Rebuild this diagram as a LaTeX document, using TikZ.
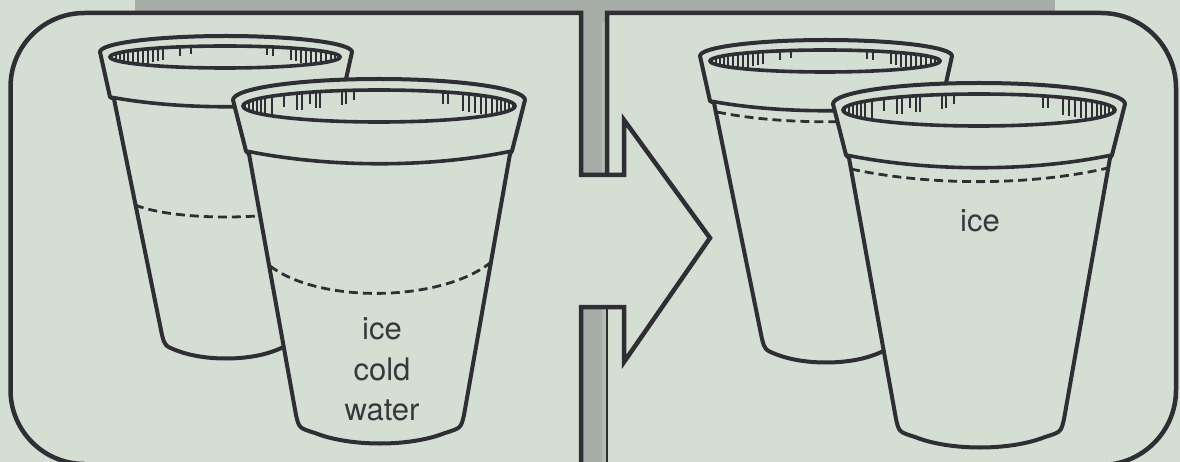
\documentclass[tikz,border=0pt]{standalone}
\usepackage{fontspec}
\newfontfamily\labelfont{TeX Gyre Heros}

\definecolor{paper}{RGB}{213,222,210}
\definecolor{band}{RGB}{166,173,166}
\definecolor{barlight}{RGB}{180,188,180}
\definecolor{ink}{RGB}{46,46,52}
\definecolor{labelink}{RGB}{56,56,62}

% upper half of an ellipse: centre (#1,#2), radii #3 and #4, from left end to right end
\newcommand\rimtop[4]{({#1-#3},#2) .. controls ({#1-#3},{#2-0.5523*#4}) and ({#1-0.5523*#3},{#2-#4}) .. ({#1},{#2-#4}) .. controls ({#1+0.5523*#3},{#2-#4}) and ({#1+#3},{#2-0.5523*#4}) .. ({#1+#3},#2)}

\tikzset{
  panel/.style={draw=ink, line width=4.5pt, line join=miter},
  cupline/.style={draw=ink, line width=4pt, line join=round, line cap=round},
  rimline/.style={draw=ink, line width=3.6pt},
  fillline/.style={draw=ink, line width=2.8pt, dash pattern=on 9pt off 5pt},
  rib/.style={draw=ink, line width=2.4pt},
  cuplabel/.style={font=\labelfont\fontsize{31pt}{37pt}\selectfont, text=labelink, inner sep=0pt, anchor=base},
}

% cup standing behind
\newcommand\backcup{%
  \draw[cupline, fill=paper] \rimtop{226}{52}{126}{16} -- (342,97) -- (338,99) -- (290,335)
    .. controls (287,346) .. (274,351) .. controls (247,361) and (205,361) .. (178,351)
    .. controls (165,346) .. (162,335) -- (114,99) -- (110,97) -- cycle;
  \draw[rimline] (110,97) .. controls (180,110) and (272,110) .. (342,97);
  \begin{scope}
    \clip (225,57) ellipse [x radius=115pt, y radius=11pt];
    \foreach \x/\l in {112/16,116/16,120/16,124/16,128/16,133/16,138/16,143/16,148/15,153/14,158/13,163/12,180/9,191/8,
                       267/8,273/9,291/12,296/13,301/14,306/15,311/16,316/16,321/16,326/16,331/16,335/16,339/16}{
      \pgfmathsetmacro\yt{57-11*sqrt(max(0,1-((\x-225)/115)^2))}
      \draw[rib] (\x,\yt) -- (\x,{\yt+\l});
    }
  \end{scope}
  \draw[rimline] (225,57) ellipse [x radius=115pt, y radius=11pt];
}

% cup standing in front
\newcommand\frontcup{%
  \draw[cupline, fill=paper] \rimtop{379}{100}{146}{21} -- (512,151) -- (510,154) -- (464,415)
    .. controls (461,428) .. (445,433) .. controls (410,447) and (350,447) .. (315,433)
    .. controls (299,428) .. (296,415) -- (249,154) -- (246,151) -- cycle;
  \draw[rimline] (246,151) .. controls (330,168) and (430,168) .. (512,151);
  \begin{scope}
    \clip (379,106) ellipse [x radius=136pt, y radius=16pt];
    \foreach \x/\l in {245/20,249/20,253/20,257/20,261/20,265/20,272/19,284/12,297/17,302/17,310/12,316/16,320/16,
                       342/14,346/14,354/10,443/12,448/12,
                       463/18,469/18,475/18,481/19,486/19,492/20,497/20,501/20,505/20,509/20,513/20}{
      \pgfmathsetmacro\yt{106-16*sqrt(max(0,1-((\x-379)/136)^2))}
      \draw[rib] (\x,\yt) -- (\x,{\yt+\l});
    }
  \end{scope}
  \draw[rimline] (379,106) ellipse [x radius=136pt, y radius=16pt];
}

\begin{document}
\begin{tikzpicture}[x=1pt, y=-1pt]
  \useasboundingbox (0,0) rectangle (1180,462);
  \clip (0,0) rectangle (1180,462);

  % ground, top band and the dividing bar
  \fill[paper] (0,0) rectangle (1180,462);
  \fill[band] (135,0) rectangle (1055,13);
  \fill[band] (581,0) rectangle (607,175);
  \fill[band] (581,307) rectangle (607,470);
  \fill[barlight] (601.5,22) rectangle (605.5,175);
  \fill[barlight] (601.5,307) rectangle (605.5,470);

  % left panel: two cups before
  \backcup
  \draw[fillline] (135,205) .. controls (175,221) and (277,221) .. (317,205);
  \frontcup
  \draw[fillline] (270,266) .. controls (320,304) and (440,302) .. (490,263);
  \node[cuplabel] (iceleft) at (382,339) {ice};
  \node[cuplabel] (coldleft) at (382,380) {cold};
  \node[cuplabel] (waterleft) at (382,420) {water};

  % right panel: the same cups after
  \begin{scope}[shift={(600,4)}]
    \backcup
    \draw[fillline] (117,108) .. controls (180,121) and (272,121) .. (337,108);
    \frontcup
    \draw[fillline] (251,165) .. controls (330,182) and (430,182) .. (508,164);
    \node[cuplabel] (iceright) at (380,228) {ice};
  \end{scope}

  % panel frames and the arrow cut out of the bar
  \draw[panel] (581,470) -- (581,307) -- (624,307) -- (624,362) -- (710,238) -- (624,120)
    -- (624,175) -- (581,175) -- (581,13) -- (84.5,13)
    .. controls (43.6,13) and (10.5,46.1) .. (10.5,87) -- (10.5,390)
    .. controls (10.5,430.9) and (43.6,464) .. (84.5,464);
  \draw[panel] (607,175) -- (607,13) -- (1101,13)
    .. controls (1142.4,13) and (1176,46.6) .. (1176,88) -- (1176,390)
    .. controls (1176,431.4) and (1142.4,465) .. (1101,465);
  \draw[ink, line width=2pt] (607,307) -- (607,470);
\end{tikzpicture}
\end{document}
